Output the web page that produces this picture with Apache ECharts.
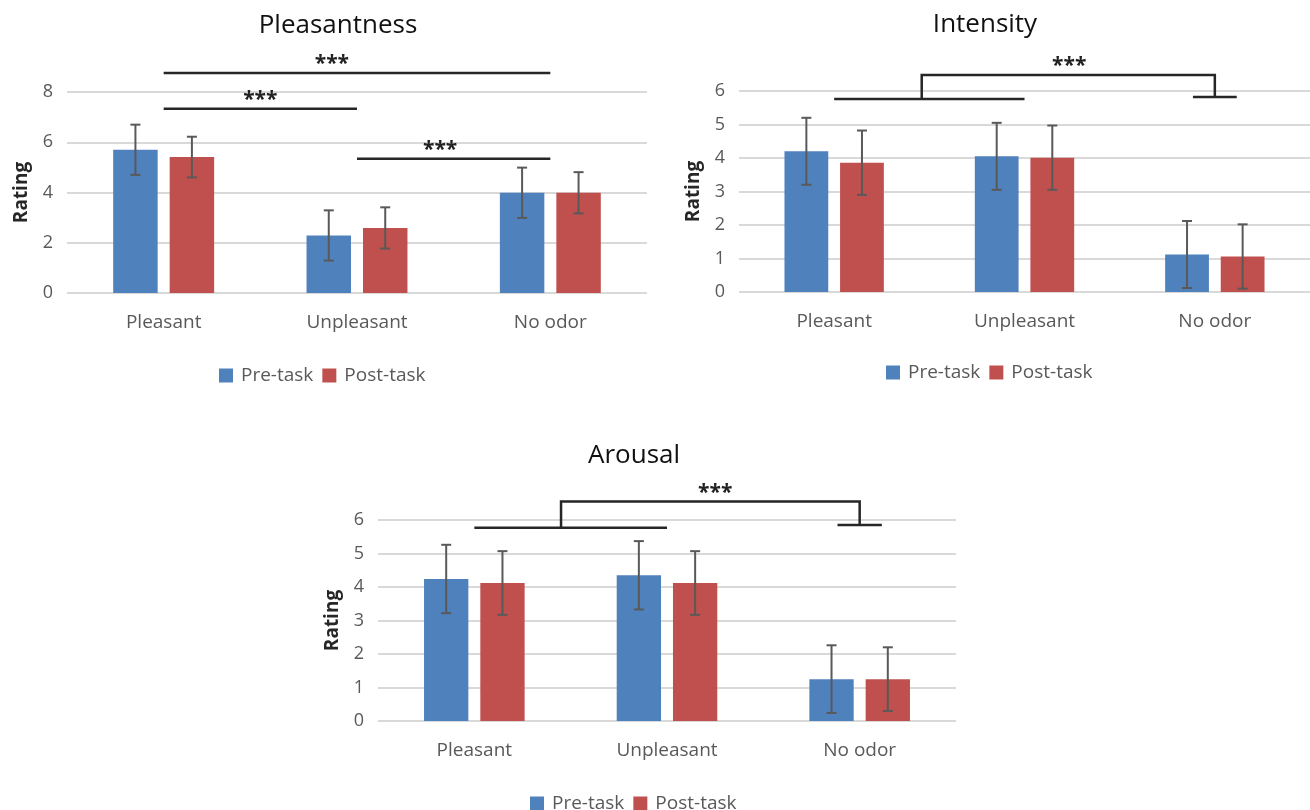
<!DOCTYPE html>
<html><head><meta charset="utf-8">
<script src="https://cdn.jsdelivr.net/npm/echarts@6/dist/echarts.min.js"></script>
<style>html,body{margin:0;padding:0;background:#fff}#c{width:1310px;height:810px}</style>
</head><body><div id="c"></div>
<script>
// ---------- data ----------
const categories = ['Pleasant', 'Unpleasant', 'No odor'];
const seriesNames = ['Pre-task', 'Post-task'];
const titles = ['Pleasantness', 'Intensity', 'Arousal'];
const yAxisName = 'Rating';
const yMax = [8, 6, 6];
const yInterval = [2, 1, 1];

const pleasantnessPre = [5.70, 2.29, 3.99];
const pleasantnessPost = [5.41, 2.59, 3.99];
const pleasantnessPreSD = [1.00, 1.00, 1.00];
const pleasantnessPostSD = [0.81, 0.82, 0.82];

const intensityPre = [4.20, 4.05, 1.12];
const intensityPost = [3.86, 4.01, 1.06];
const intensityPreSD = [1.00, 1.00, 1.00];
const intensityPostSD = [0.96, 0.96, 0.96];

const arousalPre = [4.24, 4.35, 1.25];
const arousalPost = [4.12, 4.12, 1.25];
const arousalPreSD = [1.02, 1.02, 1.01];
const arousalPostSD = [0.95, 0.95, 0.95];

const sigLabel = '***';
// simple significance lines: [fromCategory, toCategory, level, labelPosition(category units)]
const pleasantnessSig = [[0, 2, 8.76, 0.87], [0, 1, 7.33, 0.50], [1, 2, 5.34, 1.43]];
// brackets: [leftFrom, leftTo, leftLevel, joinPos, topLevel, rightCategory, rightLevel, labelPos]
const intensityBracket = [[0, 1, 5.76, 0.46, 6.48, 2, 5.82, 1.235]];
const arousalBracket = [[0, 1, 5.77, 0.45, 6.55, 2, 5.85, 1.25]];

// ---------- styles ----------
const BLUE = '#4F81BD', RED = '#C0504D';
const FONT = '"Open Sans", "Liberation Sans", sans-serif';
const LABEL_COLOR = '#595959';
const BAR_PCT = 0.23, GAP_PCT = 0.27;

const grids = [
  {left: 67, top: 92, width: 580, height: 201},
  {left: 739, top: 91, width: 572, height: 201},
  {left: 378, top: 520, width: 578, height: 201}
];
const titlePos = [[333, 8], [980, 7], [629, 438]];
const legendPos = [[219, 366], [886, 363], [530, 794]];

const datasets = [
  [pleasantnessPre, pleasantnessPost, pleasantnessPreSD, pleasantnessPostSD],
  [intensityPre, intensityPost, intensityPreSD, intensityPostSD],
  [arousalPre, arousalPost, arousalPreSD, arousalPostSD]
];

function errRender(which) {
  return function (params, api) {
    const cat = api.value(0), mean = api.value(1), sd = api.value(2);
    const band = api.size([1, 0])[0];
    const bw = band * BAR_PCT, gap = bw * GAP_PCT;
    const off = (which === 0 ? -1 : 1) * (bw + gap) / 2;
    const cx = api.coord([cat, mean])[0] + off;
    const yt = api.coord([cat, mean + sd])[1];
    const yb = api.coord([cat, mean - sd])[1];
    const cap = 5;
    const st = {stroke: '#595959', lineWidth: 2};
    return {type: 'group', children: [
      {type: 'line', shape: {x1: cx, y1: yt, x2: cx, y2: yb}, style: st},
      {type: 'line', shape: {x1: cx - cap, y1: yt, x2: cx + cap, y2: yt}, style: st},
      {type: 'line', shape: {x1: cx - cap, y1: yb, x2: cx + cap, y2: yb}, style: st}
    ]};
  };
}

const LINE_ST = {stroke: '#262626', lineWidth: 2.5};
function starText(x, y) {
  return {type: 'text', x: x, y: y - 5, style: {text: sigLabel, fill: '#222', font: 'bold 21px ' + FONT, align: 'center', verticalAlign: 'middle'}};
}
function sigLineRender(params, api) {
  const a = api.value(0), b = api.value(1), lvl = api.value(2), sp = api.value(3);
  const band = api.size([1, 0])[0];
  const pa = api.coord([a, lvl]), pb = api.coord([b, lvl]);
  const x0 = api.coord([0, lvl])[0];
  return {type: 'group', children: [
    {type: 'line', shape: {x1: pa[0], y1: pa[1], x2: pb[0], y2: pb[1]}, style: LINE_ST},
    starText(x0 + sp * band, pa[1] - 4)
  ]};
}
function bracketRender(params, api) {
  const a = api.value(0), b = api.value(1), lvlL = api.value(2), join = api.value(3);
  const lvlT = api.value(4), c = api.value(5), lvlR = api.value(6), sp = api.value(7);
  const band = api.size([1, 0])[0];
  const x0 = api.coord([0, 0])[0];
  const xa = api.coord([a, lvlL])[0], xb = api.coord([b, lvlL])[0], xc = api.coord([c, lvlR])[0];
  const yL = api.coord([a, lvlL])[1], yT = api.coord([a, lvlT])[1], yR = api.coord([a, lvlR])[1];
  const xj = x0 + join * band;
  const half = 0.115 * band;
  return {type: 'group', children: [
    {type: 'line', shape: {x1: xa, y1: yL, x2: xb, y2: yL}, style: LINE_ST},
    {type: 'polyline', shape: {points: [[xj, yL], [xj, yT], [xc, yT], [xc, yR]]}, style: Object.assign({fill: null}, LINE_ST)},
    {type: 'line', shape: {x1: xc - half, y1: yR, x2: xc + half, y2: yR}, style: LINE_ST},
    starText(x0 + sp * band, yT - 4)
  ]};
}

const option = {
  backgroundColor: '#fff',
  animation: false,
  title: titles.map((t, i) => ({
    text: t, left: titlePos[i][0], top: titlePos[i][1], textAlign: 'center',
    textStyle: {fontFamily: FONT, fontSize: 26, fontWeight: 'normal', color: '#111'}
  })),
  legend: legendPos.map(p => ({
    data: seriesNames, left: p[0], top: p[1], padding: 0, icon: 'rect', itemWidth: 14, itemHeight: 14, itemGap: 9,
    textStyle: {fontFamily: FONT, fontSize: 19, color: LABEL_COLOR, padding: [0, 0, 0, 3]}, selectedMode: false
  })),
  grid: grids.map(g => Object.assign({containLabel: false}, g)),
  xAxis: grids.map((g, i) => ({
    type: 'category', gridIndex: i, data: categories,
    axisLine: {show: false}, axisTick: {show: false},
    axisLabel: {fontFamily: FONT, fontSize: 19, color: LABEL_COLOR, margin: 20}
  })),
  yAxis: grids.map((g, i) => ({
    type: 'value', gridIndex: i, min: 0, max: yMax[i], interval: yInterval[i],
    name: yAxisName, nameLocation: 'middle', nameGap: 36,
    nameTextStyle: {fontFamily: FONT, fontSize: 19, fontWeight: 'bold', color: '#262626'},
    axisLine: {show: false}, axisTick: {show: false},
    axisLabel: {fontFamily: FONT, fontSize: 18, color: LABEL_COLOR, margin: 14},
    splitLine: {lineStyle: {color: '#D9D9D9', width: 2}}
  })),
  series: []
};

datasets.forEach((d, i) => {
  option.series.push({
    type: 'bar', name: seriesNames[0], xAxisIndex: i, yAxisIndex: i, data: d[0],
    barWidth: (BAR_PCT * 100) + '%', barGap: (GAP_PCT * 100) + '%', itemStyle: {color: BLUE}
  });
  option.series.push({
    type: 'bar', name: seriesNames[1], xAxisIndex: i, yAxisIndex: i, data: d[1],
    barWidth: (BAR_PCT * 100) + '%', barGap: (GAP_PCT * 100) + '%', itemStyle: {color: RED}
  });
  [0, 1].forEach(w => {
    option.series.push({
      type: 'custom', name: 'err' + i + w, xAxisIndex: i, yAxisIndex: i, z: 10,
      renderItem: errRender(w), encode: {x: 0, y: 1}, silent: true,
      data: categories.map((c, k) => [k, d[w][k], d[w + 2][k]])
    });
  });
});
option.series.push({type: 'custom', name: 'sig0', xAxisIndex: 0, yAxisIndex: 0, z: 11, silent: true,
  renderItem: sigLineRender, encode: {x: 0, y: 2}, data: pleasantnessSig});
option.series.push({type: 'custom', name: 'sig1', xAxisIndex: 1, yAxisIndex: 1, z: 11, silent: true,
  renderItem: bracketRender, encode: {x: 0, y: 2}, data: intensityBracket});
option.series.push({type: 'custom', name: 'sig2', xAxisIndex: 2, yAxisIndex: 2, z: 11, silent: true,
  renderItem: bracketRender, encode: {x: 0, y: 2}, data: arousalBracket});

const chart = echarts.init(document.getElementById('c'), null, {renderer: 'canvas'});
chart.setOption(option);
</script>
</body></html>
